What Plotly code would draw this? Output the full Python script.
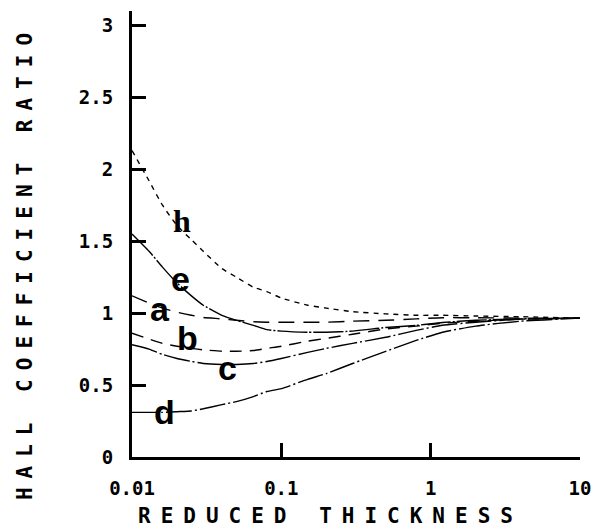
import math
import plotly.graph_objects as go

# Reduced thickness (shared x grid)
thickness = [0.01, 0.013, 0.016, 0.02, 0.025, 0.03, 0.04, 0.05, 0.065, 0.08,
             0.1, 0.15, 0.2, 0.3, 0.5, 0.8, 1.2, 2, 4, 10]

# Hall coefficient ratio, per curve
curve_h = [2.13, 1.92, 1.75, 1.61, 1.51, 1.43, 1.31, 1.25, 1.18, 1.15,
           1.105, 1.055, 1.035, 1.01, 0.995, 0.985, 0.985, 0.98, 0.975, 0.965]
curve_e = [1.55, 1.43, 1.32, 1.21, 1.12, 1.055, 0.985, 0.95, 0.915, 0.885,
           0.875, 0.867, 0.867, 0.875, 0.90, 0.915, 0.935, 0.95, 0.96, 0.965]
curve_a = [1.12, 1.07, 1.035, 1.007, 0.985, 0.97, 0.96, 0.95, 0.94, 0.937,
           0.937, 0.937, 0.937, 0.944, 0.95, 0.96, 0.968, 0.968, 0.965, 0.965]
curve_b = [0.86, 0.82, 0.79, 0.77, 0.755, 0.745, 0.735, 0.735, 0.74, 0.755,
           0.77, 0.805, 0.825, 0.853, 0.89, 0.91, 0.93, 0.944, 0.958, 0.965]
curve_c = [0.78, 0.75, 0.713, 0.685, 0.664, 0.65, 0.643, 0.643, 0.65, 0.664,
           0.685, 0.727, 0.755, 0.79, 0.832, 0.88, 0.916, 0.937, 0.958, 0.965]
curve_d = [0.31, 0.31, 0.31, 0.315, 0.32, 0.335, 0.364, 0.385, 0.42, 0.455,
           0.475, 0.54, 0.58, 0.65, 0.734, 0.81, 0.867, 0.91, 0.944, 0.965]

curve_names = ["h", "e", "a", "b", "c", "d"]
curve_values = [curve_h, curve_e, curve_a, curve_b, curve_c, curve_d]
curve_dashes = ["5px,5px", "30px,2px,2px,2px", "16px,9px", "12px,8px",
                "26px,3px,2px,3px", "26px,3px,2px,3px"]

# Curve label positions
label_x = [0.0216, 0.021, 0.0154, 0.0237, 0.0433, 0.0166]
label_y = [1.64, 1.24, 1.03, 0.83, 0.62, 0.31]

x_tickvals = [0.01, 0.1, 1, 10]
x_ticktext = ["0.01", "0.1", "1", "10"]
y_tickvals = [0, 0.5, 1, 1.5, 2, 2.5, 3]
y_ticktext = ["0", "0.5", "1", "1.5", "2", "2.5", "3"]

mono = "DejaVu Sans Mono"

fig = go.Figure()
for name, vals, dash in zip(curve_names, curve_values, curve_dashes):
    fig.add_trace(go.Scatter(
        x=thickness, y=vals, mode="lines", name=name,
        line=dict(color="black", width=1.4, dash=dash, shape="spline", smoothing=0.5),
        showlegend=False, hoverinfo="skip"))

for name, lx, ly in zip(curve_names, label_x, label_y):
    if name == "h":
        font = dict(family="Liberation Serif", size=32, color="black")
    else:
        font = dict(family="Liberation Sans", size=34, color="black")
    fig.add_annotation(x=math.log10(lx), y=ly, xref="x", yref="y",
                       text="<b>%s</b>" % name, showarrow=False,
                       font=font, xanchor="center", yanchor="middle")

fig.add_annotation(
    x=-0.2388, y=0.437, xref="paper", yref="paper", textangle=-90,
    text='<span style="letter-spacing:9px">HALL COEFFICIENT RATIO</span>',
    showarrow=False, xanchor="center", yanchor="middle",
    font=dict(family=mono, size=21, color="black", weight="bold"))
fig.add_annotation(
    x=0.442, y=-0.132, xref="paper", yref="paper",
    text='<span style="letter-spacing:10px">REDUCED THICKNESS</span>',
    showarrow=False, xanchor="center", yanchor="middle",
    font=dict(family=mono, size=21, color="black", weight="bold"))

fig.update_layout(
    width=615, height=528,
    margin=dict(l=132, r=35, t=11, b=71),
    paper_bgcolor="white", plot_bgcolor="white",
    xaxis=dict(type="log", range=[-2, 1], showgrid=False, zeroline=False,
               showline=True, linecolor="black", linewidth=3,
               ticks="inside", ticklen=14, tickwidth=2.5, tickcolor="black",
               tickvals=x_tickvals, ticktext=x_ticktext, ticklabelstandoff=12,
               tickfont=dict(family=mono, size=19, color="black", weight="bold")),
    yaxis=dict(range=[0, 3.1], showgrid=False, zeroline=False,
               showline=True, linecolor="black", linewidth=3,
               ticks="inside", ticklen=14, tickwidth=2.5, tickcolor="black",
               tickvals=y_tickvals, ticktext=y_ticktext, ticklabelstandoff=12,
               tickfont=dict(family=mono, size=19, color="black", weight="bold")),
)

fig.write_html("out.html")
